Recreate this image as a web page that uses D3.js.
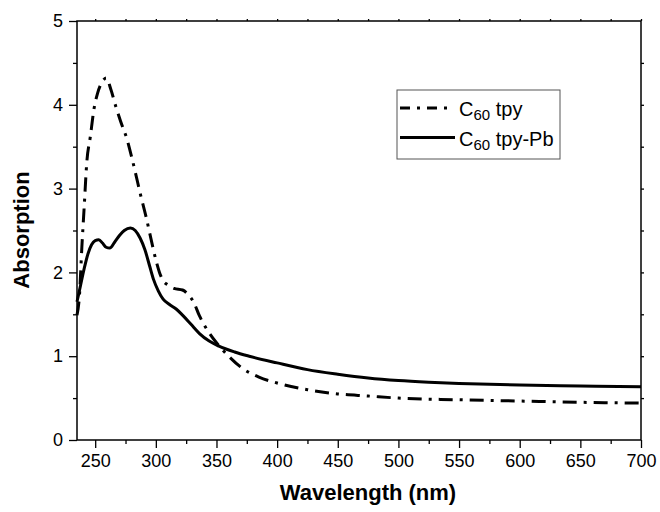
<!DOCTYPE html>
<html>
<head>
  <title>C60 tpy absorption</title>
  <script src="https://d3js.org/d3.v7.min.js"></script>
  <style>
    body { margin: 0; background: #fff; }
    text { font-family: "Liberation Sans", Arial, sans-serif; fill: #000; }
    .frame { fill: none; stroke: #000; stroke-width: 1.5; }
    .axis path { display: none; }
    .axis line { stroke: #000; stroke-width: 1.3; }
    .axis text { font-size: 18px; }
  </style>
</head>
<body>
  <div id="chart"></div>

  <script>
    // C60 tpy (dash-dot)
    const tpyWl = [235, 237, 239, 241, 243, 246, 249, 252, 256, 259, 263, 267, 271, 276, 280, 283, 287, 292, 296, 300,
      303, 306, 310, 315, 322, 327, 331, 336, 343, 350, 360, 370, 385, 400, 425, 450, 475, 500, 550, 600, 650, 700];
    const tpyAbs = [1.49, 1.72, 2.3, 2.8, 3.3, 3.62, 3.95, 4.14, 4.28, 4.32, 4.18, 3.98, 3.8, 3.6, 3.38, 3.2, 2.95, 2.66, 2.4, 2.15,
      2.0, 1.9, 1.85, 1.81, 1.79, 1.73, 1.65, 1.48, 1.3, 1.16, 1.0, 0.87, 0.75, 0.68, 0.6, 0.55, 0.525, 0.5, 0.48, 0.465, 0.45, 0.44];

    // C60 tpy-Pb (solid)
    const pbWl = [235, 238, 241, 244, 247, 250, 253, 256, 259, 262, 266, 270, 274, 279, 283, 287, 291, 295, 298, 302,
      306, 311, 317, 322, 329, 336, 344, 352, 365, 377, 400, 425, 450, 475, 500, 525, 550, 600, 650, 700];
    const pbAbs = [1.65, 1.85, 2.05, 2.22, 2.33, 2.38, 2.39, 2.35, 2.3, 2.29, 2.36, 2.44, 2.5, 2.53, 2.5, 2.41, 2.27, 2.07, 1.92, 1.78,
      1.68, 1.62, 1.56, 1.49, 1.38, 1.27, 1.18, 1.12, 1.05, 1.0, 0.92, 0.84, 0.785, 0.74, 0.71, 0.69, 0.675, 0.655, 0.645, 0.635];

    const xTicks = [250, 300, 350, 400, 450, 500, 550, 600, 650, 700];
    const yTicks = [0, 1, 2, 3, 4, 5];

    const series = [
      { name: "tpy", wl: tpyWl, abs: tpyAbs, dash: "14,7,3,7" },
      { name: "tpy-Pb", wl: pbWl, abs: pbAbs, dash: null }
    ];

    const W = 660, H = 512;
    const margin = { top: 21, right: 19, bottom: 72, left: 77 };
    const width = W - margin.left - margin.right;
    const height = H - margin.top - margin.bottom;

    const svg = d3.select("#chart").append("svg")
      .attr("width", W)
      .attr("height", H);

    const g = svg.append("g")
      .attr("transform", "translate(" + margin.left + "," + margin.top + ")");

    const x = d3.scaleLinear().domain([235, 700]).range([0, width]);
    const y = d3.scaleLinear().domain([0, 5]).range([height, 0]);

    const xMinor = d3.range(275, 700, 50);
    const yMinor = d3.range(0.5, 5, 1);

    // bottom axis: major + minor ticks, outward
    g.append("g").attr("class", "axis")
      .attr("transform", "translate(0," + height + ")")
      .call(d3.axisBottom(x).tickValues(xTicks).tickSize(8).tickPadding(6).tickFormat(d3.format("d")));
    g.append("g").attr("class", "axis")
      .attr("transform", "translate(0," + height + ")")
      .call(d3.axisBottom(x).tickValues(xMinor).tickSize(4).tickFormat(""));

    // left axis
    g.append("g").attr("class", "axis")
      .call(d3.axisLeft(y).tickValues(yTicks).tickSize(8).tickPadding(6).tickFormat(d3.format("d")));
    g.append("g").attr("class", "axis")
      .call(d3.axisLeft(y).tickValues(yMinor).tickSize(4).tickFormat(""));

    // top and right: tiny ticks only
    g.append("g").attr("class", "axis")
      .call(d3.axisTop(x).tickValues(xTicks.concat(xMinor)).tickSize(2).tickFormat(""));
    g.append("g").attr("class", "axis")
      .attr("transform", "translate(" + width + ",0)")
      .call(d3.axisRight(y).tickValues(d3.range(0.5, 5, 0.5)).tickSize(3).tickFormat(""));

    g.append("rect").attr("class", "frame")
      .attr("width", width)
      .attr("height", height);

    const line = d3.line()
      .x(d => x(d[0]))
      .y(d => y(d[1]))
      .curve(d3.curveMonotoneX);

    series.forEach(s => {
      g.append("path")
        .datum(d3.zip(s.wl, s.abs))
        .attr("fill", "none")
        .attr("stroke", "#000")
        .attr("stroke-width", 3)
        .attr("stroke-dasharray", s.dash)
        .attr("d", line);
    });

    // axis titles
    svg.append("text")
      .attr("x", 368)
      .attr("y", 500)
      .attr("text-anchor", "middle")
      .style("font-size", "22px")
      .style("font-weight", "bold")
      .text("Wavelength (nm)");

    svg.append("text")
      .attr("transform", "translate(29," + 230 + ") rotate(-90)")
      .attr("text-anchor", "middle")
      .style("font-size", "22px")
      .style("font-weight", "bold")
      .text("Absorption");

    // legend
    const legend = svg.append("g").attr("transform", "translate(397,90)");
    legend.append("rect")
      .attr("width", 163)
      .attr("height", 69)
      .attr("fill", "#fff")
      .attr("stroke", "#555")
      .attr("stroke-width", 1);

    series.forEach((s, i) => {
      const row = legend.append("g").attr("transform", "translate(0," + (18 + i * 29.5) + ")");
      row.append("line")
        .attr("x1", 3).attr("x2", s.dash ? 50 : 58)
        .attr("stroke", "#000")
        .attr("stroke-width", 3)
        .attr("stroke-dasharray", s.dash ? "10,7,3,7" : null);
      const t = row.append("text")
        .attr("x", 62)
        .attr("y", 8)
        .style("font-size", "20px");
      t.append("tspan").text("C");
      t.append("tspan").attr("dy", 4).style("font-size", "15px").text("60");
      t.append("tspan").attr("dy", -4).text(" " + s.name);
    });
  </script>
</body>
</html>
